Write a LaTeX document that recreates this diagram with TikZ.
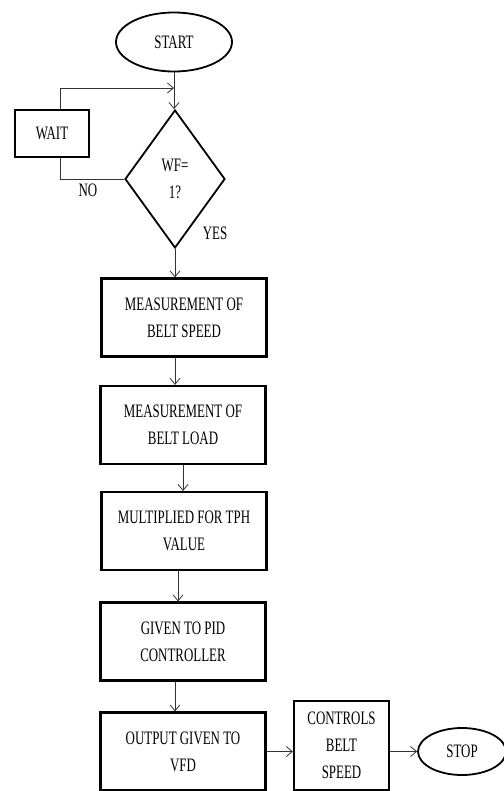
\documentclass[tikz,border=0pt]{standalone}
\usepackage{fontspec}
\setmainfont[FakeStretch=0.68]{Liberation Serif}
\usetikzlibrary{shapes.geometric,arrows.meta}

\begin{document}
\begin{tikzpicture}[x=1pt, y=-1pt,
	every node/.style={font=\fontsize{19}{27}\selectfont, align=center},
	box/.style={draw, line width=2.2pt, minimum width=165pt, minimum height=78pt, inner sep=0pt},
	term/.style={draw, ellipse, line width=1.8pt, inner sep=0pt},
	decide/.style={draw, diamond, line width=1.8pt, minimum width=100pt, minimum height=138pt, inner sep=0pt},
	arr/.style={-{Straight Barb[length=6pt,width=10pt]}, line width=0.8pt, black!80}]
			\useasboundingbox (0,0) rectangle (503,791);
			\node[term, minimum width=116pt, minimum height=59pt] (start) at (174,42) {START};
			\node[decide] (wf) at (175,179) {WF=\\1?};
			\node[draw, line width=2.2pt, minimum width=74pt, minimum height=47pt] (wait) at (52,133.5) {WAIT};
			\node[box] (speed) at (184,317.5) {MEASUREMENT OF\\BELT SPEED};
			\node[box] (load) at (183,425) {MEASUREMENT OF\\BELT LOAD};
			\node[box] (tph) at (184,531) {MULTIPLIED FOR TPH\\VALUE};
			\node[box] (pid) at (183,641.5) {GIVEN TO PID\\CONTROLLER};
			\node[box] (vfd) at (183,751.5) {OUTPUT GIVEN TO\\VFD};
			\node[box, minimum width=95pt, minimum height=89pt] (ctrl) at (341.5,745.5) {CONTROLS\\BELT\\SPEED};
			\node[term, minimum width=88pt, minimum height=47pt] (stop) at (462,751.5) {STOP};
			\node (no) at (88,190) {NO};
			\node (yes) at (215,233) {YES};
			% loop back through WAIT
			\coordinate (loop) at (60,88);
			\draw[arr] (start.south) -- (start.south |- wf.north);
			\draw[line width=0.8pt, black!80] (wf.west) -- (wf.west -| loop) -- (wait.south -| loop);
			\draw[arr] (wait.north -| loop) -- (loop) -- (loop -| start.south);
			% main chain
			\draw[arr] (wf.south) -- (wf.south |- speed.north);
			\draw[arr] (speed.south -| wf.south) -- (load.north -| wf.south);
			\draw[arr] (load.south) -- (load.south |- tph.north);
			\draw[arr] (tph.south -| 178,0) -- (pid.north -| 178,0);
			\draw[arr] (pid.south -| wf.south) -- (vfd.north -| wf.south);
			\draw[arr] (vfd.east) -- (vfd.east -| ctrl.west);
			\draw[arr] (ctrl.east |- stop) -- (stop.west);
			\end{tikzpicture}
\end{document}
